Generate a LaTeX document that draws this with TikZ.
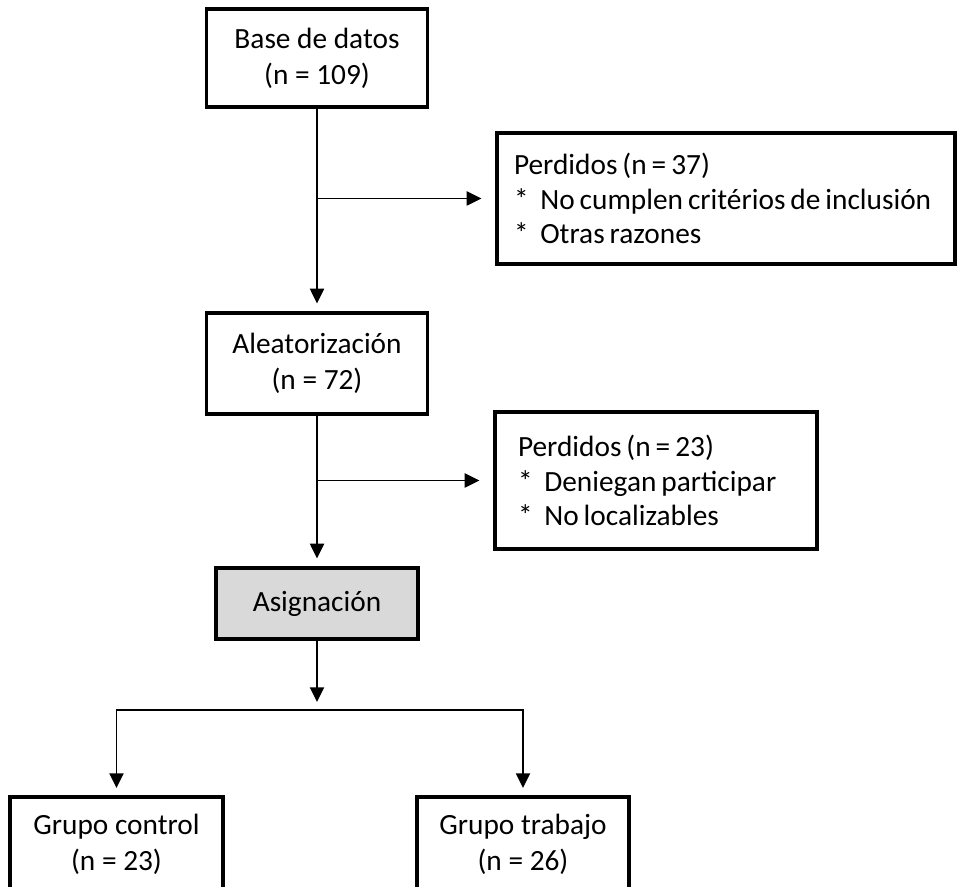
\documentclass[tikz,border=0pt]{standalone}
\usepackage{fontspec}
\setmainfont{Carlito}
\usetikzlibrary{arrows.meta, positioning}

\newcommand{\lostfont}{\fontsize{22}{26}\selectfont\spaceskip=0.17em\relax}

\begin{document}
\begin{tikzpicture}[
x=0.75pt, y=-0.75pt,
box/.style={rectangle, draw, line width=2.4pt, align=center, inner sep=0pt, font=\fontsize{22}{27}\selectfont},
lostbox/.style={box, align=flush left, inner xsep=17.25pt, font=\lostfont},
groupbox/.style={box, line width=3pt, minimum width=159.5pt, minimum height=70.5pt},
arrow/.style={-{Triangle[length=11pt, width=10.5pt]}, line width=1.4pt}
]
\clip (0,0) rectangle (957,887);

\node[box, minimum width=165.75pt, minimum height=73.5pt] (base) at (317,58) {Base de datos\\(n = 109)};
\node[lostbox, text width=318pt, inner xsep=12.75pt, minimum height=98.25pt] (lost1) at (726,198.5) {Perdidos (n = 37)\\{*}\hspace{0.4em}No cumplen critérios de inclusión\\{*}\hspace{0.4em}Otras razones};
\node[box, minimum width=165.75pt, minimum height=75.75pt] (alea) at (317,363.5) {Aleatorización\\(n = 72)};
\node[lostbox, text width=207pt, minimum height=102.75pt] (lost2) at (656,480.5) {Perdidos (n = 23)\\{*}\hspace{0.4em}Deniegan participar\\{*}\hspace{0.4em}No localizables};
\node[box, fill=gray!30, minimum width=151.5pt, minimum height=53.25pt] (asig) at (317,603.5) {Asignación};
\node[groupbox] (ctrl) at (116.5,844) {Grupo control\\(n = 23)};
\node[groupbox] (trab) at (523,844) {Grupo trabajo\\(n = 26)};
\coordinate (split) at (317,710);

\draw[arrow, shorten >=6pt] (base) -- (alea);
\draw[arrow, shorten >=10.5pt] (base.south |- lost1.west) -- (lost1.west);
\draw[arrow, shorten >=6pt] (alea) -- (asig);
\draw[arrow, shorten >=10.5pt] (alea.south |- lost2.west) -- (lost2.west);
\draw[arrow, shorten >=6pt] (asig) -- (split);
\draw[arrow, shorten >=5.25pt] (split) -| (ctrl);
\draw[arrow, shorten >=5.25pt] (split) -| (trab);

\end{tikzpicture}
\end{document}
